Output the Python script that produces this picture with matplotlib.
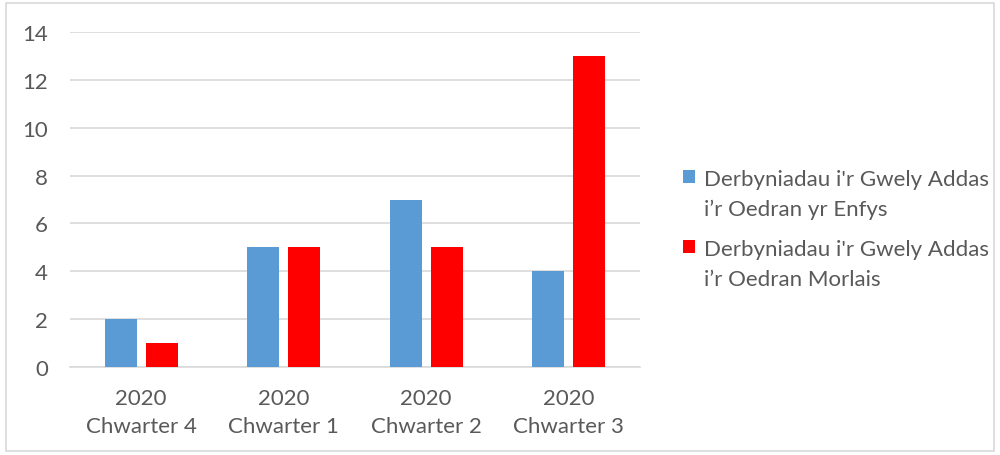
import matplotlib
matplotlib.use("Agg")
import matplotlib.pyplot as plt
from matplotlib.patches import Rectangle, Patch
from matplotlib.legend_handler import HandlerPatch
import numpy as np

plt.rcParams['font.family'] = ['Lato', 'DejaVu Sans']

categories = ["2020\nChwarter 4", "2020\nChwarter 1", "2020\nChwarter 2", "2020\nChwarter 3"]
series_names = ["Derbyniadau i'r Gwely Addas\ni\u2019r Oedran yr Enfys",
                "Derbyniadau i'r Gwely Addas\ni\u2019r Oedran Morlais"]
enfys = [2, 5, 7, 4]
morlais = [1, 5, 5, 13]
colors = ["#5B9BD5", "#FF0000"]
yticks = [0, 2, 4, 6, 8, 10, 12, 14]

text_color = "#595959"
FS = 16
fig = plt.figure(figsize=(10, 4.56), dpi=100)
ax = fig.add_axes([0.07, 1 - 368/456, 0.57, (368 - 33)/456])

x = np.arange(len(categories))
w = 0.225
off = 0.145
ax.bar(x - off, enfys, w, color=colors[0], zorder=3)
ax.bar(x + off, morlais, w, color=colors[1], zorder=3)

ax.set_xlim(-0.5, len(categories) - 0.5)
ax.set_ylim(0, 14)
ax.set_yticks(yticks)
ax.set_xticks(x)
ax.set_xticklabels(categories, linespacing=1.5)
ax.tick_params(axis='both', length=0, labelsize=FS, colors=text_color)
ax.tick_params(axis='x', pad=15)
ax.tick_params(axis='y', pad=16)
ax.grid(axis='y', color="#D9D9D9", linewidth=1.2, zorder=0)
for s in ['top', 'right', 'left']:
    ax.spines[s].set_visible(False)
ax.spines['bottom'].set_color("#D9D9D9")
ax.spines['bottom'].set_linewidth(1.2)


def top_square(legend, orig_handle, xdescent, ydescent, width, height, fontsize):
    return Rectangle((-xdescent, -ydescent + 0.8 * fontsize), width, height)


handles = [Patch(facecolor=c, edgecolor='none') for c in colors]
leg = fig.legend(handles, series_names, loc='center left',
                 bbox_to_anchor=(0.663, 1 - 230/456), frameon=False,
                 fontsize=FS, handlelength=0.55, handleheight=0.55,
                 handletextpad=0.4, labelspacing=0.9, labelcolor=text_color,
                 handler_map={Patch: HandlerPatch(patch_func=top_square)})
for t in leg.get_texts():
    t.set_linespacing(1.6)

fig.patches.append(Rectangle((6/1000, 4/456), 988/1000, 448/456,
                             transform=fig.transFigure, fill=False,
                             edgecolor="#D9D9D9", linewidth=1.2))

fig.savefig("out.png", dpi=100)
